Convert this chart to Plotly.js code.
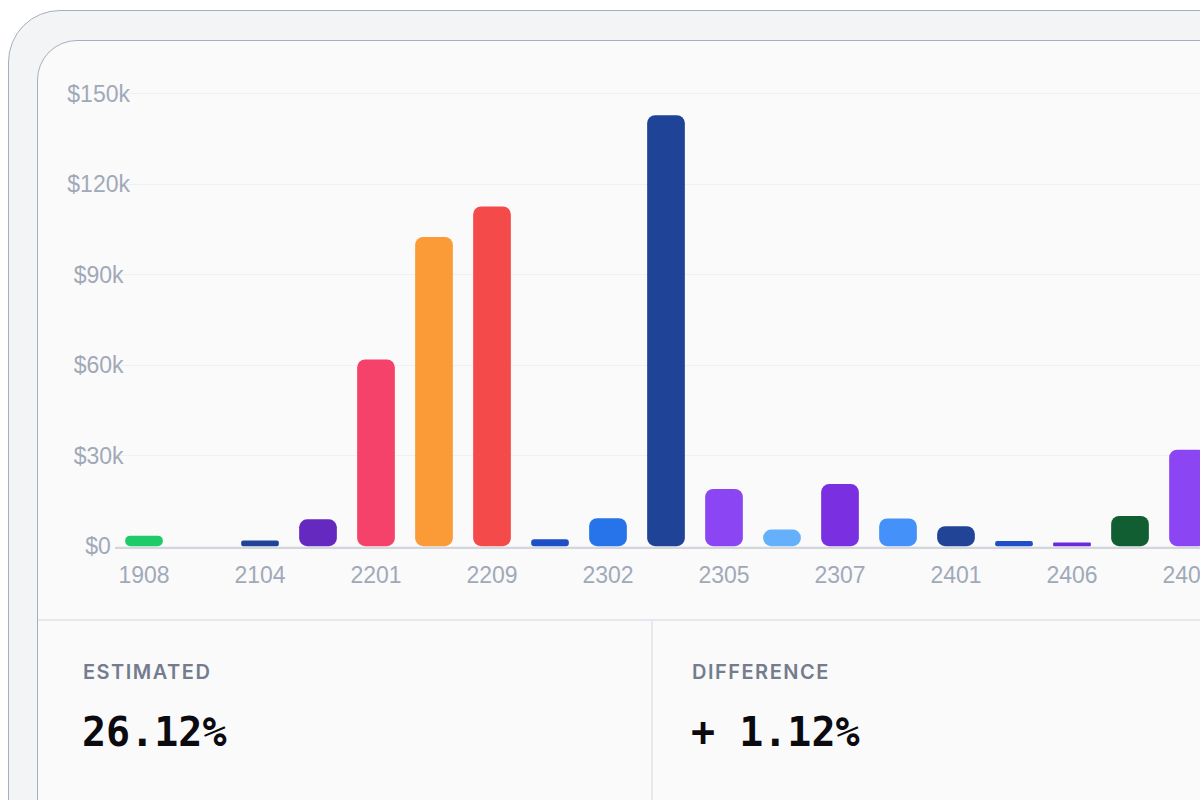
<!DOCTYPE html>
<html>
<head>
<meta charset="utf-8">
<script src="https://cdn.plot.ly/plotly-3.0.1.min.js"></script>
<style>
  html, body { margin:0; padding:0; width:1200px; height:800px; overflow:hidden; background:#ffffff; }
  .outer { position:absolute; left:8px; top:10px; width:1400px; height:1000px; box-sizing:border-box;
           border:1px solid #a6aebd; border-radius:52px; background:#f3f4f6; }
  .card { position:absolute; left:37px; top:40px; width:1400px; height:1000px; box-sizing:border-box;
          border:1px solid #a6aebd; border-radius:40px; background:#fafafb; }
  #chart { position:absolute; left:0; top:0; width:1300px; height:640px; }
  .divider-h { position:absolute; left:38px; top:619px; width:1300px; height:0; border-top:2px solid #e6e8ee; }
  .divider-v { position:absolute; left:651px; top:620px; width:0; height:200px; border-left:2px solid #e6e8ee; }
  .stat-label { position:absolute; font-family:Inter, "Noto Sans", sans-serif; font-weight:600; font-size:20px;
                letter-spacing:1.5px; color:#747c8d; }
  .stat-value { position:absolute; font-family:"DejaVu Sans Mono", "Liberation Mono", monospace; font-weight:700; font-size:40px;
                color:#0b0b0f; }
</style>
</head>
<body>
<div class="outer"></div>
<div class="card"></div>
<div class="divider-h"></div>
<div class="divider-v"></div>
<div class="stat-label" style="left:83px; top:660px;">ESTIMATED</div>
<div class="stat-value" style="left:82px; top:709px;">26.12%</div>
<div class="stat-label" style="left:692px; top:660px;">DIFFERENCE</div>
<div class="stat-value" style="left:691px; top:709px;">+ 1.12%</div>
<div id="chart"></div>
<script>
// ---- data ----
const categories = ["1908","2011","2104","2106","2201","2205","2209","2212","2302","2304","2305","2306","2307","2311","2401","2404","2406","2407","2408"];
const values = [3500, 0, 1900, 8900, 61900, 102500, 112600, 2300, 9300, 142900, 19000, 5500, 20600, 9200, 6600, 1700, 1200, 10000, 32000];
const barColors = ["#1fcb68","#1f4398","#1f4398","#6529bf","#f5426a","#fb9b38","#f44a4a","#1e4fc8","#2673ea","#1f4397","#8b45f2","#64b0fb","#7a2fe0","#4391f9","#214496","#1f4fc8","#6d28d9","#115e32","#8b45f2"];
const yTickVals = [0, 30000, 60000, 90000, 120000, 150000];
const xTickLabels = categories.filter((c, i) => i % 2 === 0);

// ---- layout constants ----
const plotLeft = 115, plotTop = 70, plotBottom = 548, divW = 1300, divH = 640, plotRight = 1260;
const labelRight = 131;
const slot = 58, firstCenter = 144;
const W = plotRight - plotLeft;
const r0 = -(firstCenter - plotLeft) / slot;
const r1 = r0 + W / slot;

// centered y tick labels (padded with no-break spaces)
const tickFont = '23px "Liberation Sans"';
const cv = document.createElement('canvas').getContext('2d');
cv.font = tickFont;
const rawY = yTickVals.map(v => v === 0 ? '$0' : '$' + (v / 1000) + 'k');
const maxW = Math.max(...rawY.map(t => cv.measureText(t).width));
const spW = cv.measureText('\u00A0').width || 6.4;
const yTickText = rawY.map(t => t + '\u00A0'.repeat(Math.round((maxW - cv.measureText(t).width) / 2 / spW)));

const traces = [{
  type:'bar', x: categories, y: values, base: values.map(() => 0),
  hoverinfo:'skip', showlegend:false,
  marker:{ color: barColors, cornerradius: 8, line:{width:0} }
}];

const layout = {
  width: divW, height: divH,
  margin: { l: plotLeft, r: divW - plotRight, t: plotTop, b: divH - plotBottom, pad: 0 },
  paper_bgcolor: 'rgba(0,0,0,0)', plot_bgcolor: 'rgba(0,0,0,0)',
  bargap: 0.35,
  font: { family: 'Liberation Sans, Arial, sans-serif', size: 23, color: '#a1a9b8' },
  xaxis: {
    type: 'category', range: [r0, r1], showgrid: false, zeroline: false, showline: false,
    ticks: '', tickmode: 'array', tickvals: xTickLabels, ticktext: xTickLabels,
    ticklabelstandoff: 11, tickfont: { size: 23, color: '#a1a9b8' }, fixedrange: true
  },
  yaxis: {
    range: [-600, 157860], tickmode: 'array', tickvals: yTickVals, ticktext: yTickText,
    showgrid: true, gridcolor: '#eff0f4', gridwidth: 1, zeroline: false, showline: false, ticks: '',
    ticklabelstandoff: plotLeft - labelRight, tickfont: { size: 23, color: '#a1a9b8' }, fixedrange: true
  },
  shapes: [
    { type:'line', xref:'paper', yref:'paper', x0: 0, x1: 1, y0: 0, y1: 0,
      line: { color:'#d3d6dd', width: 2 }, layer:'below' }
  ]
};
Plotly.newPlot('chart', traces, layout, { displayModeBar: false, staticPlot: true });
</script>
</body>
</html>
